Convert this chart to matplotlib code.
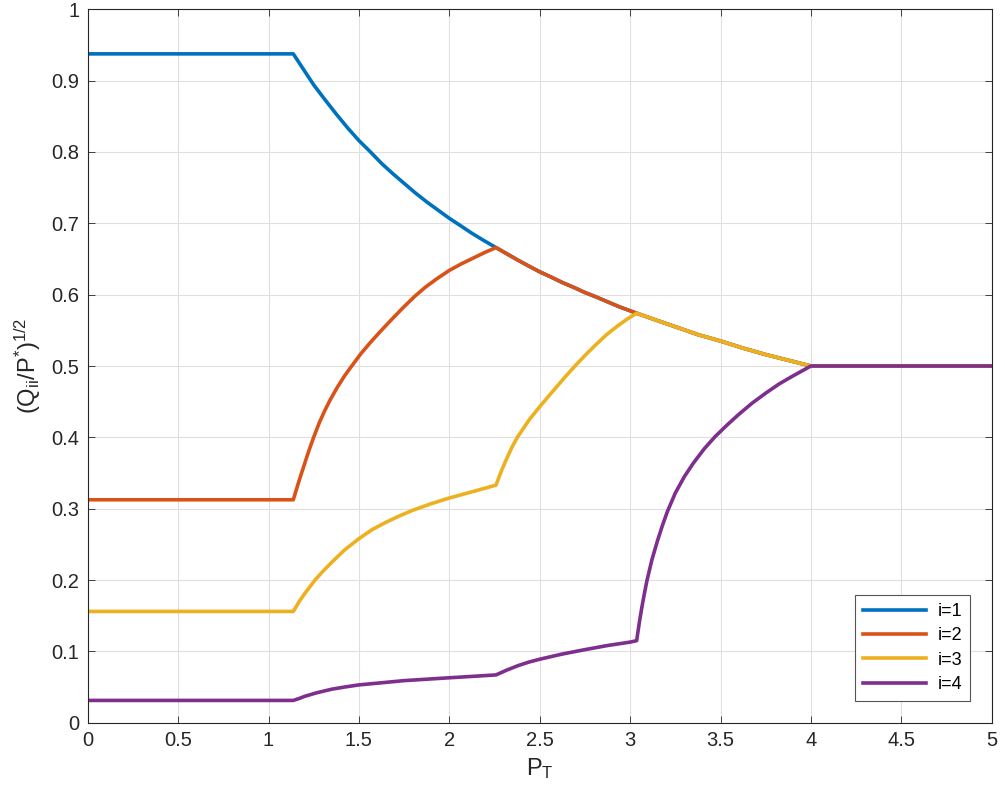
import matplotlib
matplotlib.use("Agg")
import matplotlib.pyplot as plt

# ---- data ----
labels = ["i=1", "i=2", "i=3", "i=4"]
colors = ["#0072BD", "#D95319", "#EDB120", "#7E2F8E"]

# shared descending branch from x=2.258 to x=4 and flat tail
x_tail = [2.32, 2.375, 2.44, 2.5, 2.56, 2.625, 2.69, 2.75, 2.81, 2.875, 2.94, 3.036,
          3.125, 3.25, 3.375, 3.5, 3.625, 3.75, 3.875, 4.0, 5.0]
y_tail = [0.657, 0.649, 0.640, 0.632, 0.625, 0.617, 0.610, 0.603, 0.597, 0.590, 0.583, 0.574,
          0.566, 0.555, 0.544, 0.535, 0.525, 0.516, 0.508, 0.5, 0.5]

x1 = [0, 1.137, 1.19, 1.25, 1.31, 1.375, 1.44, 1.5, 1.56, 1.625, 1.69, 1.75, 1.81, 1.875,
      1.94, 2.0, 2.06, 2.125, 2.19, 2.258] + x_tail
y1 = [0.9375, 0.9375, 0.917, 0.894, 0.874, 0.853, 0.833, 0.816, 0.801, 0.784, 0.769, 0.756, 0.743, 0.730,
      0.718, 0.707, 0.697, 0.686, 0.676, 0.666] + y_tail

x2 = [0, 1.137, 1.15, 1.17, 1.193, 1.22, 1.248, 1.28, 1.31, 1.34, 1.38, 1.42, 1.46, 1.51, 1.56,
      1.617, 1.68, 1.745, 1.81, 1.87, 1.935, 2.0, 2.065, 2.13, 2.195, 2.258] + x_tail
y2 = [0.3125, 0.3125, 0.3235, 0.340, 0.358, 0.379, 0.399, 0.420, 0.437, 0.452, 0.470, 0.486, 0.500, 0.517, 0.532,
      0.548, 0.565, 0.582, 0.598, 0.611, 0.623, 0.634, 0.643, 0.651, 0.659, 0.666] + y_tail

x3 = [0, 1.137, 1.17, 1.2, 1.257, 1.3, 1.35, 1.42, 1.5, 1.575, 1.65, 1.725, 1.8, 1.9, 2.0, 2.13,
      2.258, 2.288, 2.317, 2.346, 2.376, 2.44, 2.5, 2.55, 2.594, 2.645, 2.695, 2.755, 2.815, 2.87,
      2.93, 2.985, 3.036] + x_tail[12:]
y3 = [0.156, 0.156, 0.170, 0.181, 0.200, 0.212, 0.225, 0.242, 0.258, 0.271, 0.281, 0.290, 0.298, 0.307, 0.315, 0.324,
      0.333, 0.353, 0.370, 0.386, 0.400, 0.424, 0.443, 0.458, 0.471, 0.486, 0.500, 0.516, 0.531, 0.544,
      0.556, 0.566, 0.574] + y_tail[12:]

x4 = [0, 1.137, 1.17, 1.2, 1.267, 1.35, 1.42, 1.5, 1.625, 1.75, 1.875, 2.0, 2.13, 2.258,
      2.32, 2.38, 2.44, 2.5, 2.62, 2.741, 2.87, 3.0, 3.036,
      3.05, 3.065, 3.078, 3.092, 3.12, 3.15, 3.178, 3.206, 3.25, 3.3, 3.35, 3.41, 3.47, 3.535,
      3.6, 3.675, 3.75, 3.825, 3.9, 3.95, 4.0, 5.0]
y4 = [0.03125, 0.03125, 0.034, 0.037, 0.042, 0.047, 0.050, 0.053, 0.056, 0.059, 0.061, 0.063, 0.065, 0.067,
      0.074, 0.080, 0.085, 0.089, 0.096, 0.102, 0.108, 0.113, 0.115,
      0.139, 0.162, 0.180, 0.198, 0.228, 0.254, 0.276, 0.296, 0.322, 0.345, 0.364, 0.384, 0.401, 0.417,
      0.432, 0.448, 0.462, 0.475, 0.486, 0.493, 0.5, 0.5]

xticks = [0, 0.5, 1, 1.5, 2, 2.5, 3, 3.5, 4, 4.5, 5]
xticklabels = ["0", "0.5", "1", "1.5", "2", "2.5", "3", "3.5", "4", "4.5", "5"]
yticks = [0, 0.1, 0.2, 0.3, 0.4, 0.5, 0.6, 0.7, 0.8, 0.9, 1]
yticklabels = ["0", "0.1", "0.2", "0.3", "0.4", "0.5", "0.6", "0.7", "0.8", "0.9", "1"]

# ---- style ----
plt.rcParams["font.family"] = ["Liberation Sans", "DejaVu Sans"]
plt.rcParams["mathtext.fontset"] = "custom"
plt.rcParams["mathtext.rm"] = "Liberation Sans"
plt.rcParams["mathtext.it"] = "Liberation Sans"

axcol = "#262626"
fig = plt.figure(figsize=(10.05, 8.0), dpi=100)
ax = fig.add_axes([0.0873, 0.0966, 0.8995, 0.8918])

for xs, ys, c, lab in zip([x1, x2, x3, x4], [y1, y2, y3, y4], colors, labels):
    ax.plot(xs, ys, color=c, lw=2.6, label=lab, solid_joinstyle="round")

ax.set_xlim(0, 5)
ax.set_ylim(0, 1)
ax.set_xticks(xticks)
ax.set_xticklabels(xticklabels)
ax.set_yticks(yticks)
ax.set_yticklabels(yticklabels)
ax.grid(True, color="#dfdfdf", lw=0.8)
ax.set_axisbelow(True)
ax.tick_params(direction="in", length=5, width=0.6, top=True, right=True,
               labelsize=14.5, colors=axcol, pad=6)
for s in ax.spines.values():
    s.set_color(axcol)
    s.set_linewidth(0.8)

ax.set_xlabel(r"$\mathregular{P_T}$", fontsize=17, color=axcol, labelpad=4)
ax.set_ylabel(r"$\mathregular{(Q_{ii}/P^{*})^{1/2}}$", fontsize=17, color=axcol, labelpad=6)

leg = ax.legend(loc="lower right", fontsize=13, handlelength=3.5, fancybox=False,
                edgecolor="#555555", framealpha=1, borderaxespad=1.2, labelspacing=0.4,
                handletextpad=0.6, borderpad=0.45)
leg.get_frame().set_linewidth(0.8)

fig.savefig("out.png", dpi=100)
